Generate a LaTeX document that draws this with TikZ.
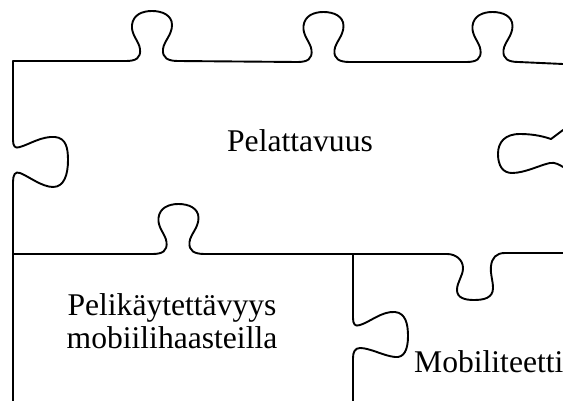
\documentclass[tikz,border=0pt]{standalone}
\usepackage{fontspec}
\setmainfont{Liberation Serif}
\newcommand\tabU{%
 .. controls +(10,0) and +(1,9) .. ++(14,-12)
 .. controls +(-1,-8) and +(-1,10) .. ++(-8,-24)
 .. controls +(1,-10) and +(-10,0) .. ++(20,-14)
 .. controls +(10,0) and +(0,-10) .. ++(20,14)
 .. controls +(0,10) and +(1,-8) .. ++(-9,24)
 .. controls +(-1,9) and +(-10,0) .. ++(15,12)}
\tikzset{edge/.style={line width=1.9pt, line cap=round, line join=round},
 lbl/.style={font=\fontsize{31.6}{32}\selectfont, inner sep=0pt, anchor=base}}
\begin{document}
\begin{tikzpicture}[x=1pt,y=-1pt]
\clip (0,0) rectangle (563,401);
% top piece: top edge with three tabs
\draw[edge] (13,61) -- (126,61) \tabU -- (297.5,62) \tabU -- (466.5,62) \tabU -- (563,64);
% left edge with blank
\draw[edge] (13,61) -- (13,140)
 .. controls (13,146) and (15,149) .. (20,147)
 .. controls (30,144) and (42,136) .. (55,137)
 .. controls (66,138) and (68,148) .. (68,160)
 .. controls (68,175) and (64,187) .. (53,187)
 .. controls (42,187) and (28,176) .. (20,173)
 .. controls (15,171) and (13,175) .. (13,182)
 -- (13,401);
% right blank
\draw[edge] (563,130) -- (551,139)
 .. controls (545,137) and (535,134) .. (520,134)
 .. controls (505,134) and (498,142) .. (498,154)
 .. controls (498,166) and (503,173) .. (512,173)
 .. controls (525,173) and (540,165) .. (550,163)
 .. controls (555,162) and (560,165) .. (563,167);
% middle horizontal edge
\draw[edge] (13,254) -- (152.5,254) \tabU -- (447,254)
 .. controls (456,254) and (463,260) .. (463,268)
 .. controls (463,276) and (457,282) .. (457,290)
 .. controls (457,298) and (465,300) .. (474,300)
 .. controls (484,300) and (493,298) .. (493,288)
 .. controls (493,280) and (490,274) .. (491,266)
 .. controls (492,258) and (496,253) .. (505,253)
 -- (563,253);
% vertical edge of bottom-right piece
\draw[edge] (353,254) -- (353,318)
 .. controls (353,324) and (355,327) .. (360,325)
 .. controls (370,322) and (382,311) .. (395,312)
 .. controls (406,313) and (408,325) .. (408,336)
 .. controls (408,350) and (404,358) .. (395,357)
 .. controls (384,356) and (370,348) .. (360,348)
 .. controls (355,348) and (353,352) .. (353,358)
 -- (353,401);
\node[lbl] (pel) at (300,152) {Pelattavuus};
\node[lbl] (pk1) at (172,316) {Pelikäytettävyys};
\node[lbl] (pk2) at (172,348) {mobiilihaasteilla};
\node[lbl, anchor=base west] (mob) at (414,372) {Mobiliteetti};
\end{tikzpicture}
\end{document}
